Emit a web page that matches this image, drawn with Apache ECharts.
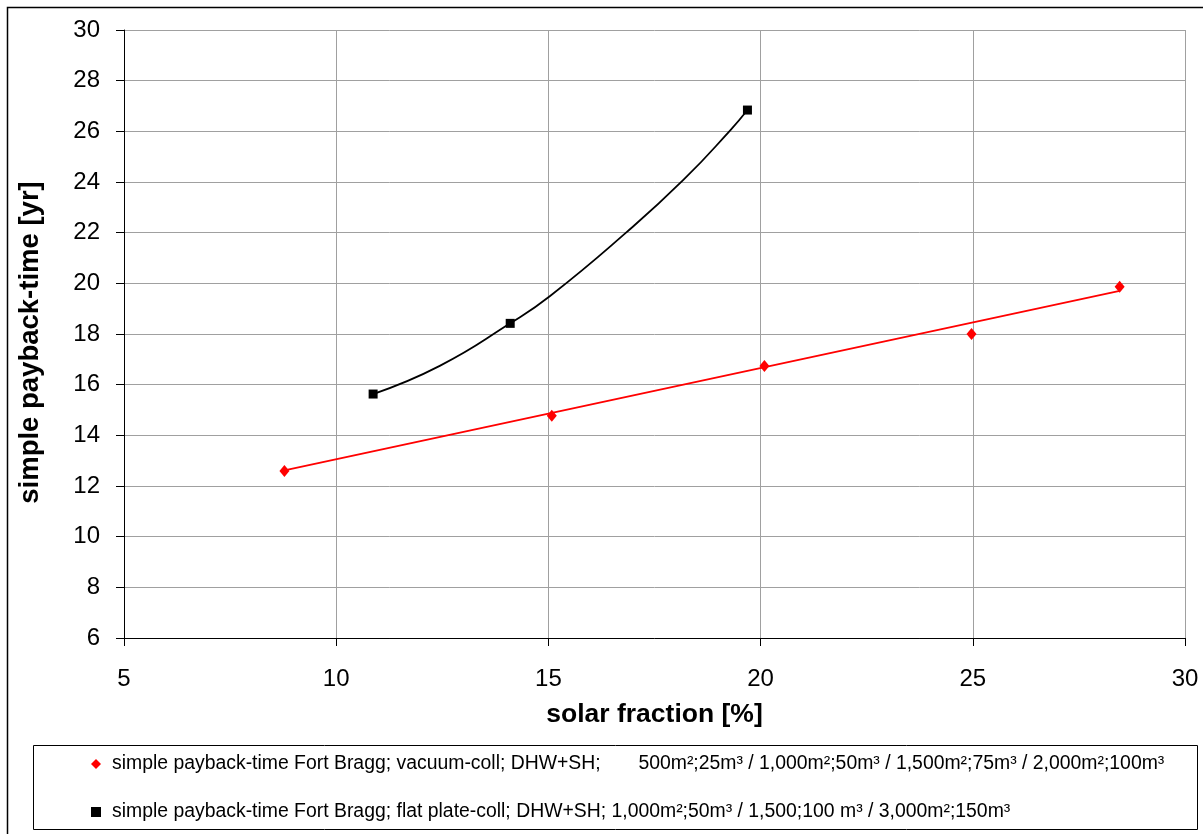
<!DOCTYPE html>
<html>
<head>
<meta charset="utf-8">
<script src="https://cdn.jsdelivr.net/npm/echarts@6/dist/echarts.min.js"></script>
<style>
html,body{margin:0;padding:0;background:#fff;}
#chart{width:1203px;height:834px;}
</style>
</head>
<body>
<div id="chart"></div>
<script>
// ---- data ----
const vacuumName = 'simple payback-time Fort Bragg; vacuum-coll; DHW+SH;       500m\u00b2;25m\u00b3 / 1,000m\u00b2;50m\u00b3 / 1,500m\u00b2;75m\u00b3 / 2,000m\u00b2;100m\u00b3';
const flatName = 'simple payback-time Fort Bragg; flat plate-coll; DHW+SH; 1,000m\u00b2;50m\u00b3 / 1,500;100 m\u00b3 / 3,000m\u00b2;150m\u00b3';

const vacuumX = [8.78, 15.08, 20.09, 24.97, 28.46];
const vacuumY = [12.59, 14.77, 16.74, 18.0, 19.87];

const flatX = [10.87, 14.10, 19.69];
const flatY = [15.63, 18.42, 26.84];

// trend lines as drawn in the picture
const vacuumTrendX = [8.78, 28.46];
const vacuumTrendY = [12.62, 19.70];
const flatTrendX = [10.87, 12.44, 14.10, 15.04, 16.83, 18.18, 19.29, 19.69];
const flatTrendY = [15.63, 16.74, 18.42, 19.50, 22.0, 24.08, 26.05, 26.84];

const xTicks = {min: 5, max: 30, interval: 5};
const yTicks = {min: 6, max: 30, interval: 2};

const zip = (a, b) => a.map((v, i) => [v, b[i]]);

const font = "'Liberation Sans', Arial, sans-serif";

const chart = echarts.init(document.getElementById('chart'), null, {renderer: 'canvas'});
chart.setOption({
  animation: false,
  backgroundColor: '#fff',
  grid: {left: 124, right: 18, top: 30, bottom: 196, containLabel: false},
  xAxis: {
    type: 'value', min: xTicks.min, max: xTicks.max, interval: xTicks.interval,
    name: 'solar fraction [%]', nameLocation: 'middle', nameGap: 63,
    nameTextStyle: {fontFamily: font, fontSize: 26.5, fontWeight: 'bold', color: '#000'},
    axisLine: {show: true, onZero: false, lineStyle: {color: '#000', width: 1}},
    axisTick: {show: true, length: 8, lineStyle: {color: '#000'}},
    axisLabel: {fontFamily: font, fontSize: 24, color: '#000', margin: 29},
    splitLine: {show: true, lineStyle: {color: '#a0a0a0', width: 1}}
  },
  yAxis: {
    type: 'value', min: yTicks.min, max: yTicks.max, interval: yTicks.interval,
    name: 'simple payback-time [yr]', nameLocation: 'middle', nameGap: 80,
    nameTextStyle: {fontFamily: font, fontSize: 27.5, fontWeight: 'bold', color: '#000', padding: [0, 17, 0, 0]},
    axisLine: {show: true, onZero: false, lineStyle: {color: '#000', width: 1}},
    axisTick: {show: true, length: 8, lineStyle: {color: '#000'}},
    axisLabel: {fontFamily: font, fontSize: 24, color: '#000', margin: 24},
    splitLine: {show: true, lineStyle: {color: '#a0a0a0', width: 1}}
  },
  legend: {
    orient: 'vertical', left: 86, top: 747, itemWidth: 10, itemHeight: 10, itemGap: 24,
    textStyle: {fontFamily: font, fontSize: 19.4, color: '#000', lineHeight: 24, padding: [0, 0, 0, 6]},
    data: [{name: vacuumName, icon: 'diamond'}, {name: flatName, icon: 'rect'}]
  },
  graphic: [
    {type: 'rect', silent: true, z: -1, shape: {x: 7.5, y: 7.5, width: 1230, height: 860}, style: {fill: 'none', stroke: '#000', lineWidth: 1.5}},
    {type: 'rect', silent: true, z: -1, shape: {x: 33.5, y: 745.5, width: 1164, height: 84}, style: {fill: '#fff', stroke: '#000', lineWidth: 1}}
  ],
  series: [
    {type: 'line', name: 'vacuum trend', data: zip(vacuumTrendX, vacuumTrendY), showSymbol: false, symbol: 'none', silent: true,
     lineStyle: {color: '#ff0000', width: 1.8}, z: 2},
    {type: 'line', name: 'flat trend', data: zip(flatTrendX, flatTrendY), smooth: true, showSymbol: false, symbol: 'none', silent: true,
     lineStyle: {color: '#000', width: 1.8}, z: 2},
    {type: 'scatter', name: vacuumName, data: zip(vacuumX, vacuumY), symbol: 'diamond', symbolSize: [10, 12],
     itemStyle: {color: '#ff0000', opacity: 1}, z: 3},
    {type: 'scatter', name: flatName, data: zip(flatX, flatY), symbol: 'rect', symbolSize: 9,
     itemStyle: {color: '#000', opacity: 1}, z: 3}
  ]
});
</script>
</body>
</html>
